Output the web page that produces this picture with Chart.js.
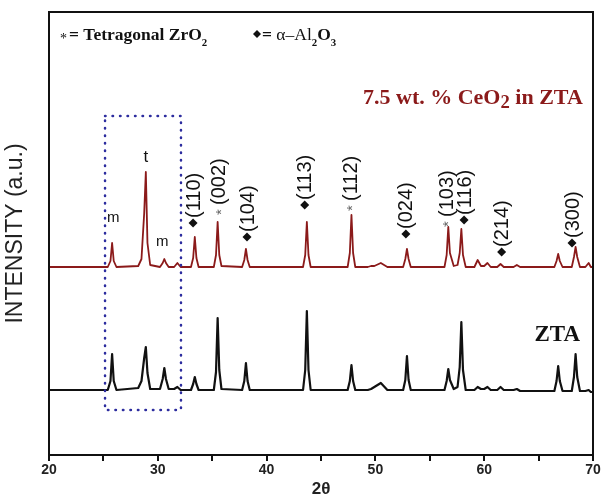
<!DOCTYPE html>
<html>
<head>
<meta charset="utf-8">
<script src="https://cdn.jsdelivr.net/npm/chart.js@4"></script>
<style>
  body { margin: 0; background: #fff; }
  canvas { display: block; }
</style>
</head>
<body>
<canvas id="xrdChart" width="602" height="503"></canvas>
<script>
// 2θ positions (shared by both patterns)
const twoTheta = [
    20, 25.4, 25.65, 25.8, 25.95, 26.2,
    28.2, 28.5, 28.75, 28.9, 29.05, 29.3,
    30.2, 30.45, 30.6, 30.75, 31.0,
    31.5, 31.8, 32.1,
    33.05, 33.25, 33.4, 33.55, 33.75,
    35.15, 35.35, 35.5, 35.65, 35.85,
    37.75, 37.95, 38.1, 38.25, 38.45,
    43.35, 43.55, 43.7, 43.85, 44.05,
    47.45, 47.65, 47.8, 47.95, 48.15,
    49.3, 49.6, 49.9, 50.5, 51.1,
    52.55, 52.75, 52.9, 53.05, 53.25,
    56.35, 56.55, 56.7, 56.85, 57.2,
    57.55, 57.75, 57.9, 58.05, 58.3,
    59.1, 59.4, 59.7,
    60.0, 60.3, 60.6,
    61.2, 61.5, 61.8,
    62.7, 63.0, 63.3,
    66.45, 66.65, 66.8, 66.95, 67.2,
    68.05, 68.25, 68.4, 68.55, 68.8,
    69.3, 69.6, 69.8, 70
];

// 7.5 wt.% CeO2 in ZTA (upper, dark red) - intensity in a.u. incl. offset
const ceriaZta = [
    188, 188, 194, 212, 194, 188,
    189, 196, 242, 283, 212, 190,
    188, 192, 196, 192, 188,
    188, 192, 188,
    188, 197, 218, 197, 188,
    188, 200, 233, 200, 189,
    188, 195, 206, 195, 188,
    188, 200, 233, 200, 188,
    188, 202, 240, 202, 188,
    188, 189, 189, 192, 188,
    188, 196, 206, 196, 188,
    188, 200, 228, 202, 189,
    190, 202, 226, 200, 188,
    188, 195, 189,
    189, 192, 188,
    188, 191, 188,
    188, 190, 188,
    188, 194, 201, 194, 188,
    188, 198, 208, 198, 188,
    188, 192, 188, 188
];

// plain ZTA (lower, black)
const plainZta = [
    65, 65, 74, 101, 74, 65,
    67, 74, 97, 108, 82, 66,
    66, 76, 87, 76, 66,
    66, 68, 65,
    65, 71, 78, 71, 65,
    65, 83, 137, 85, 66,
    65, 74, 92, 74, 65,
    65, 85, 144, 85, 65,
    65, 74, 90, 74, 65,
    65, 66, 68, 72, 65,
    65, 75, 99, 75, 65,
    65, 74, 86, 75, 66,
    68, 88, 133, 85, 65,
    65, 68, 66,
    66, 68, 65,
    65, 68, 65,
    65, 66, 64,
    64, 74, 89, 74, 64,
    64, 78, 101, 78, 64,
    64, 65, 63, 63
];

// x tick labels
const tickLabels = [20, 30, 40, 50, 60, 70];

// reflection labels: 2θ, label start (a.u.), marker, text
const reflections = [
    { x: 33.24, y: 227, mark: 'd', text: '(110)' },
    { x: 35.6,  y: 240, mark: 's', text: '(002)' },
    { x: 38.2,  y: 213, mark: 'd', text: '(104)' },
    { x: 43.5,  y: 245, mark: 'd', text: '(113)' },
    { x: 47.67, y: 244, mark: 's', text: '(112)' },
    { x: 52.8,  y: 216, mark: 'd', text: '(024)' },
    { x: 56.5,  y: 228, mark: 's', text: '(103)' },
    { x: 58.15, y: 230, mark: 'd', text: '(116)' },
    { x: 61.6,  y: 198, mark: 'd', text: '(214)' },
    { x: 68.07, y: 207, mark: 'd', text: '(300)' }
];

// small phase letters: m = monoclinic, t = tetragonal
const phaseLetters = [
    { x: 25.9, y: 237, text: 'm' },
    { x: 28.9, y: 298, text: 't' },
    { x: 30.4, y: 213, text: 'm' }
];

// dotted box around the ZrO2 region (2θ / a.u.)
const zoomBox = { x1: 25.15, x2: 32.13, y1: 45, y2: 339 };

const toXY = arr => arr.map((v, i) => ({ x: twoTheta[i], y: v }));

const drawDiamond = (ctx, cx, cy, r) => {
    ctx.beginPath();
    ctx.moveTo(cx - r, cy);
    ctx.lineTo(cx, cy - r);
    ctx.lineTo(cx + r, cy);
    ctx.lineTo(cx, cy + r);
    ctx.closePath();
    ctx.fill();
};

// draw text made of pieces (some lowered as subscripts), returns end x
const drawParts = (ctx, parts, x, y, size, family) => {
    parts.forEach(p => {
        const s = p.sub ? size * (p.k || 0.62) : size;
        ctx.font = (p.normal ? '' : 'bold ') + s + 'px ' + family;
        ctx.fillText(p.t, x, y + (p.sub ? p.dy : 0));
        x += ctx.measureText(p.t).width;
    });
    return x;
};

const overlay = {
    id: 'overlay',
    afterDatasetsDraw(chart) {
        const { ctx, chartArea: a, scales: { x, y } } = chart;
        ctx.save();

        // dotted box
        ctx.strokeStyle = '#2d2d9f';
        ctx.lineWidth = 2.5;
        ctx.lineCap = 'round';
        ctx.setLineDash([0.5, 7]);
        ctx.strokeRect(x.getPixelForValue(zoomBox.x1), y.getPixelForValue(zoomBox.y2),
            x.getPixelForValue(zoomBox.x2) - x.getPixelForValue(zoomBox.x1),
            y.getPixelForValue(zoomBox.y1) - y.getPixelForValue(zoomBox.y2));
        ctx.setLineDash([]);

        // frame
        ctx.strokeStyle = '#111';
        ctx.lineWidth = 2;
        ctx.strokeRect(a.left, a.top, a.right - a.left, a.bottom - a.top);

        // reflection labels (rotated)
        reflections.forEach(r => {
            ctx.save();
            ctx.translate(x.getPixelForValue(r.x), y.getPixelForValue(r.y));
            ctx.rotate(-Math.PI / 2);
            ctx.textBaseline = 'middle';
            ctx.textAlign = 'left';
            let off;
            if (r.mark === 'd') {
                ctx.fillStyle = '#111';
                drawDiamond(ctx, 5, 0, 4.5);
                off = 10;
            } else {
                ctx.fillStyle = '#666';
                ctx.font = '15px "Liberation Sans", Arial';
                ctx.fillText('*', 0, 3);
                off = 10;
            }
            ctx.fillStyle = '#111';
            ctx.font = '20px "Liberation Sans", Arial';
            ctx.fillText(r.text, off, 1);
            ctx.restore();
        });

        // phase letters
        ctx.fillStyle = '#111';
        ctx.textAlign = 'center';
        ctx.textBaseline = 'middle';
        phaseLetters.forEach(p => {
            ctx.font = (p.text === 't' ? '17px' : '15px') + ' "Liberation Sans", Arial';
            ctx.fillText(p.text, x.getPixelForValue(p.x), y.getPixelForValue(p.y));
        });

        // key at the top
        const serif = '"Liberation Serif", "Times New Roman", serif';
        ctx.textAlign = 'left';
        ctx.textBaseline = 'alphabetic';
        ctx.font = '14px ' + serif;
        ctx.fillText('*', a.left + 11, a.top + 31);
        drawParts(ctx, [{ t: '= Tetragonal ZrO' }, { t: '2', sub: true, dy: 6 }],
            a.left + 20, a.top + 28, 17.5, serif);

        drawDiamond(ctx, a.left + 208, a.top + 22, 4);
        const kx = drawParts(ctx, [{ t: '=' }], a.left + 213, a.top + 28, 17.5, serif);
        drawParts(ctx, [
            { t: ' α–Al', normal: true },
            { t: '2', sub: true, dy: 6 },
            { t: 'O' },
            { t: '3', sub: true, dy: 6 }
        ], kx, a.top + 28, 17.5, serif);

        // sample names
        ctx.fillStyle = '#8b1a1a';
        drawParts(ctx, [
            { t: '7.5 wt. % CeO' },
            { t: '2', sub: true, dy: 4, k: 0.85 },
            { t: ' in ZTA' }
        ], a.left + 314, a.top + 92, 22, serif);
        ctx.fillStyle = '#111';
        ctx.font = 'bold 23px ' + serif;
        ctx.textAlign = 'right';
        ctx.fillText('ZTA', a.right - 13, a.top + 329);

        ctx.restore();
    }
};

const xrdCtx = document.getElementById('xrdChart').getContext('2d');
const xrdChart = new Chart(xrdCtx, {
    type: 'line',
    data: {
        datasets: [
            {
                label: '7.5 wt. % CeO2 in ZTA',
                data: toXY(ceriaZta),
                borderColor: '#8b1a1a',
                borderWidth: 1.8,
                borderJoinStyle: 'round',
                pointRadius: 0,
                tension: 0
            },
            {
                label: 'ZTA',
                data: toXY(plainZta),
                borderColor: '#111',
                borderWidth: 2.2,
                borderJoinStyle: 'round',
                pointRadius: 0,
                tension: 0
            }
        ]
    },
    options: {
        responsive: false,
        animation: false,
        layout: { padding: { top: 12, right: 9, left: 0, bottom: 0 } },
        plugins: {
            legend: { display: false },
            tooltip: { enabled: false }
        },
        scales: {
            x: {
                type: 'linear',
                min: 20,
                max: 70,
                afterFit: s => { s.height = 48; },
                afterBuildTicks: s => {
                    // major every 10, minor half-way
                    const t = [];
                    tickLabels.forEach((v, i) => {
                        t.push({ value: v });
                        if (i < tickLabels.length - 1) t.push({ value: v + 5 });
                    });
                    s.ticks = t;
                },
                ticks: {
                    autoSkip: false,
                    maxRotation: 0,
                    padding: 1,
                    color: '#222',
                    font: { family: '"Liberation Sans", Arial', size: 14, weight: 'bold' },
                    callback: v => tickLabels.includes(v) ? v : ''
                },
                grid: { drawOnChartArea: false, tickLength: 6, color: '#111', lineWidth: 2 },
                border: { color: '#111', width: 2 },
                title: {
                    display: true,
                    text: '2θ',
                    color: '#222',
                    padding: { top: 0, bottom: 3 },
                    font: { family: '"Liberation Sans", Arial', size: 17, weight: 'bold' }
                }
            },
            y: {
                min: 0,
                max: 443,
                afterFit: s => { s.width = 49; },
                ticks: { display: false },
                grid: { display: false },
                border: { color: '#111', width: 2 },
                title: {
                    display: true,
                    text: 'INTENSITY (a.u.)',
                    color: '#222',
                    padding: { top: 2, bottom: 0 },
                    font: { family: '"Liberation Sans", Arial', size: 23 }
                }
            }
        }
    },
    plugins: [overlay]
});
</script>
</body>
</html>
